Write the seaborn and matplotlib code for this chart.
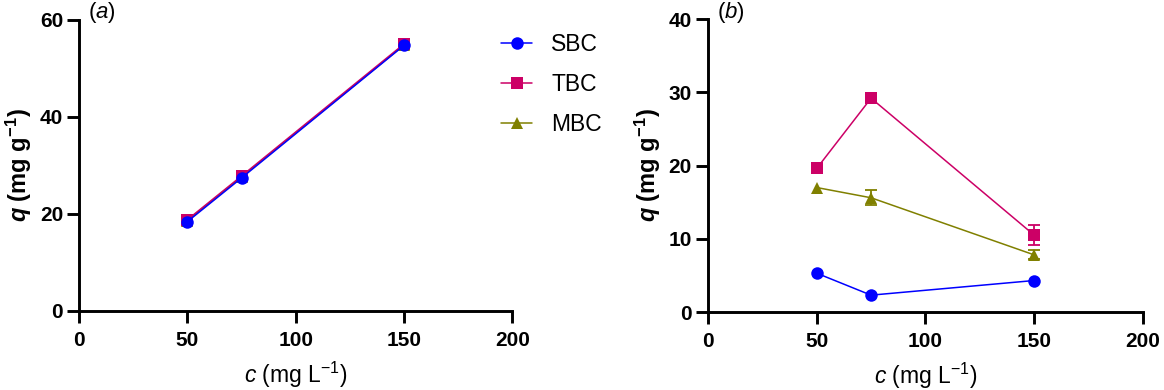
import numpy as np
import pandas as pd
import matplotlib
matplotlib.use('Agg')
import matplotlib.pyplot as plt
from matplotlib.lines import Line2D
import seaborn as sns

# concentrations (mg/L)
conc = [50, 75, 150]
series = ['SBC', 'TBC', 'MBC']
colors = {'SBC': '#0000FF', 'TBC': '#CC0066', 'MBC': '#808000'}
markers = {'SBC': 'o', 'TBC': 's', 'MBC': '^'}

# panel (a) values
a_sbc = [18.4, 27.4, 54.7]
a_tbc = [18.8, 27.8, 55.0]
a_mbc = [18.6, 27.6, 54.8]

# panel (b) values and error bars (0 = hidden behind marker)
b_sbc = [5.3, 2.3, 4.3]
b_tbc = [19.6, 29.2, 10.5]
b_mbc = [17.0, 15.6, 7.8]
b_sbc_err = [0, 0, 0]
b_tbc_err = [0, 0, 1.4]
b_mbc_err = [0, 1.0, 0.6]

df_a = pd.DataFrame({'c': conc * 3, 'q': a_sbc + a_tbc + a_mbc,
                     'sample': np.repeat(series, 3)})
df_b = pd.DataFrame({'c': conc * 3, 'q': b_sbc + b_tbc + b_mbc,
                     'err': b_sbc_err + b_tbc_err + b_mbc_err,
                     'sample': np.repeat(series, 3)})

sns.set_style('ticks')
plt.rcParams['font.family'] = ['Liberation Sans', 'DejaVu Sans']
plt.rcParams['text.color'] = 'black'
plt.rcParams['axes.labelcolor'] = 'black'
plt.rcParams['xtick.color'] = 'black'
plt.rcParams['ytick.color'] = 'black'
plt.rcParams['mathtext.fontset'] = 'custom'
plt.rcParams['mathtext.rm'] = 'Liberation Sans'
plt.rcParams['mathtext.it'] = 'Liberation Sans:italic'
plt.rcParams['mathtext.bf'] = 'Liberation Sans:bold'
plt.rcParams['mathtext.bfit'] = 'Liberation Sans:bold:italic'

fig = plt.figure(figsize=(11.64, 3.9), dpi=100)
ax1 = fig.add_axes([0.0679, 0.2026, 0.3723, 0.747])
ax2 = fig.add_axes([0.6082, 0.2, 0.3737, 0.751])


def draw(ax, df, with_err):
    for s in ['MBC', 'TBC', 'SBC']:
        d = df[df['sample'] == s]
        if with_err:
            e = d[d['err'] > 0]
            ax.errorbar(e['c'], e['q'], yerr=e['err'], fmt='none',
                        ecolor=colors[s], elinewidth=1.3, capsize=4.5,
                        capthick=1.3, zorder=2, clip_on=False)
        sns.lineplot(data=d, x='c', y='q', ax=ax, color=colors[s],
                     marker=markers[s], markersize=9, markeredgewidth=0,
                     linewidth=1.1, zorder=3)


draw(ax1, df_a, False)
draw(ax2, df_b, True)

for ax, ymax, ystep in [(ax1, 60, 20), (ax2, 40, 10)]:
    ax.set_xlim(0, 200)
    ax.set_ylim(0, ymax)
    ax.set_xticks(np.arange(0, 201, 50))
    ax.set_yticks(np.arange(0, ymax + 1, ystep))
    sns.despine(ax=ax)
    for sp in ['left', 'bottom']:
        ax.spines[sp].set_linewidth(2.1)
        ax.spines[sp].set_color('black')
    ax.tick_params(axis='both', length=8.5, width=2.1, labelsize=15)
    ax.tick_params(axis='x', pad=6)
    ax.tick_params(axis='y', pad=3)
    for lab in ax.get_xticklabels() + ax.get_yticklabels():
        lab.set_fontweight('bold')
    ax.set_xlabel(r'$c$ (mg L$^{-1}$)', fontsize=16.5, labelpad=7)
    ax.set_ylabel(r'$\mathbfit{q}$ $\mathbf{(mg\ g^{-1})}$', fontsize=17,
                  labelpad=4)
    for ln in ax.lines:
        ln.set_clip_on(False)

fig.text(88 / 1164, 1 - 0 / 390, r'($a$)', fontsize=16, va='top')
fig.text(717 / 1164, 1 - 0 / 390, r'($b$)', fontsize=16, va='top')

handles = [Line2D([], [], color=colors[s], marker=markers[s], markersize=9,
                  markeredgewidth=0, linewidth=1.1) for s in series]
fig.legend(handles, series, loc='upper left',
           bbox_to_anchor=(492 / 1164, 1 - 24 / 390), frameon=False,
           fontsize=16.5, handlelength=1.35, handletextpad=0.83,
           labelspacing=0.74, borderaxespad=0)

fig.savefig('out.png', dpi=100)
